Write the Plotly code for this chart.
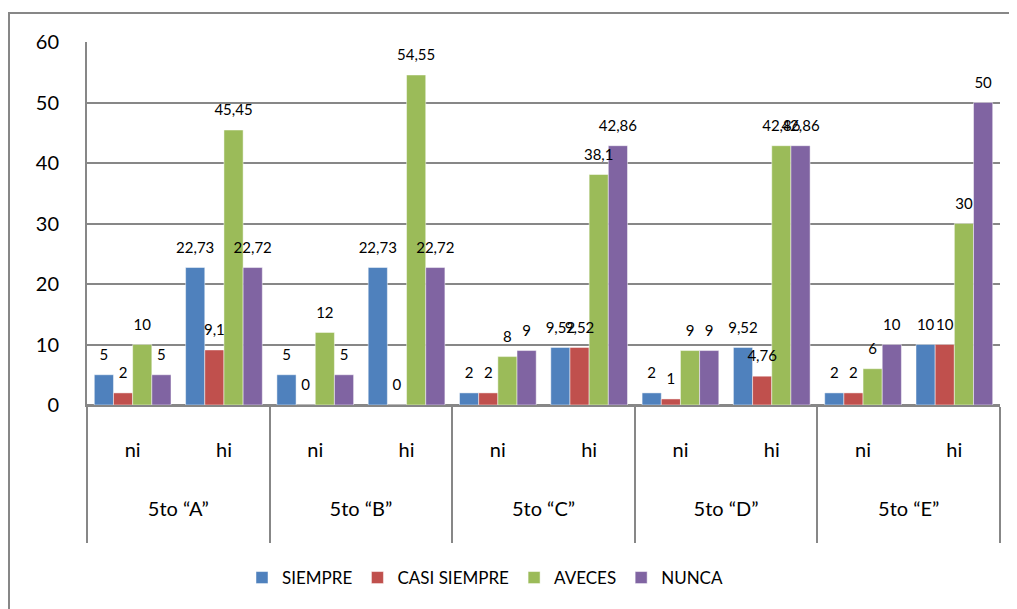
import plotly.graph_objects as go

groups = ['5to “A”', '5to “A”', '5to “B”', '5to “B”', '5to “C”', '5to “C”',
          '5to “D”', '5to “D”', '5to “E”', '5to “E”']
subs = ['ni', 'hi'] * 5

siempre = [5, 22.73, 5, 22.73, 2, 9.52, 2, 9.52, 2, 10]
casi_siempre = [2, 9.1, 0, 0, 2, 9.52, 1, 4.76, 2, 10]
aveces = [10, 45.45, 12, 54.55, 8, 38.1, 9, 42.86, 6, 30]
nunca = [5, 22.72, 5, 22.72, 9, 42.86, 9, 42.86, 10, 50]

series = [
    ('SIEMPRE', siempre, '#4F81BD'),
    ('CASI SIEMPRE', casi_siempre, '#C0504D'),
    ('AVECES', aveces, '#9BBB59'),
    ('NUNCA', nunca, '#8064A2'),
]

FONT = 'Lato'
GAP = 0.16

def fmt(v):
    return f'{v:g}'.replace('.', ',')

# invisible spacer glyphs stretch the label rows to the reference's tall two-row axis
def spacer(size):
    return f'<span style="font-size:{size}px">\u00a0</span>'

subs_lbl = ['<br>' + s + '<br>' + spacer(48) for s in subs]
groups_lbl = ['<br>' + g + '<br>' + spacer(2) for g in groups]
xcat = [groups_lbl, subs_lbl]

fig = go.Figure()
for i, (name, vals, col) in enumerate(series):
    fig.add_trace(go.Bar(
        x=xcat, y=vals, name=name, offsetgroup=str(i),
        marker=dict(color=col, line=dict(color='rgba(255,255,255,0.6)', width=0.8)),
    ))
for i, (name, vals, col) in enumerate(series):
    fig.add_trace(go.Scatter(
        x=xcat, y=vals, name=name, offsetgroup=str(i), showlegend=False,
        mode='markers+text', marker=dict(size=16, opacity=0, color=col),
        text=[fmt(v) for v in vals], textposition='top center',
        textfont=dict(family=FONT, size=15, color='#000000'),
        cliponaxis=False, hoverinfo='skip',
    ))

# page has an 8px body margin; figure coordinates = reference pixels - 8
OFF = 8
W, H = 1017 - OFF, 609 - OFF
PL, PR, PT, PB = 87 - OFF, 1000 - OFF, 42 - OFF, 405 - OFF
L, R, T, B = PL, W - PR, PT, H - PB
pw, ph = PR - PL, PB - PT

def px_x(p):
    return (p - OFF - L) / pw

def px_y(p):
    return (H - B - (p - OFF)) / ph

fig.update_layout(
    width=W, height=H,
    margin=dict(l=L, r=R, t=T, b=B, autoexpand=False),
    paper_bgcolor='white', plot_bgcolor='white',
    barmode='group', bargap=GAP, bargroupgap=0,
    scattermode='group', scattergap=GAP,
    font=dict(family=FONT, color='#000000'),
    showlegend=True,
    legend=dict(orientation='h', x=px_x(485), xanchor='center',
                y=px_y(578), yanchor='middle',
                font=dict(family=FONT, size=17),
                traceorder='normal'),
    xaxis=dict(
        type='multicategory',
        showline=True, linecolor='#878787', linewidth=2,
        showdividers=True, dividercolor='#878787', dividerwidth=2,
        tickfont=dict(family=FONT, size=20),
        ticks='', showgrid=False,
    ),
    yaxis=dict(
        range=[0, 60], dtick=10, showgrid=True, gridcolor='#878787', gridwidth=1.5,
        showline=True, linecolor='#878787', linewidth=2,
        zeroline=True, zerolinecolor='#878787', zerolinewidth=2,
        tickfont=dict(family=FONT, size=20), ticklabelstandoff=22,
    ),
    shapes=[dict(type='rect', xref='paper', yref='paper',
                 x0=px_x(9), x1=px_x(1040), y0=px_y(13), y1=px_y(640),
                 line=dict(color='#878787', width=2), fillcolor='rgba(0,0,0,0)',
                 layer='below')],
)

fig.write_html('out.html')
